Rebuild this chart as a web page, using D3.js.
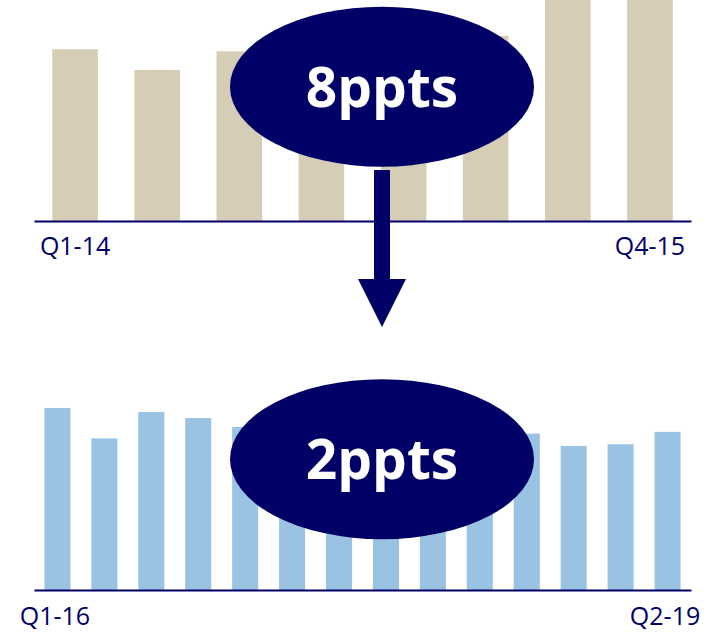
<!DOCTYPE html>
<html>
<head>
<meta charset="utf-8">
<script src="https://cdn.jsdelivr.net/npm/d3@7"></script>
<style>
  body { margin: 0; background: #fff; }
  text { font-family: "Open Sans", sans-serif; }
</style>
</head>
<body>
<div id="chart"></div>
<script>
// quarterly values, percentage points
const topQuarters = ["Q1-14", "Q2-14", "Q3-14", "Q4-14", "Q1-15", "Q2-15", "Q3-15", "Q4-15"];
const topValues = [9.04, 7.95, 8.93, 8.5, 9.2, 9.74, 15.9, 14.8];

const bottomQuarters = ["Q1-16", "Q2-16", "Q3-16", "Q4-16", "Q1-17", "Q2-17", "Q3-17",
  "Q4-17", "Q1-18", "Q2-18", "Q3-18", "Q4-18", "Q1-19", "Q2-19"];
const bottomValues = [9.58, 7.98, 9.37, 9.05, 8.58, 8.3, 8.0, 8.2, 8.4, 8.6, 8.23, 7.58, 7.67, 8.32];

const topLabel = "8ppts";
const bottomLabel = "2ppts";

const navy = "#000066";
const width = 726, height = 632;

const svg = d3.select("#chart")
  .append("svg")
  .attr("width", width)
  .attr("height", height);

function drawPanel(quarters, values, baseY, color, padding, shift) {
  const g = svg.append("g");

  const x = d3.scaleBand()
    .domain(quarters)
    .range([34, 691])
    .paddingInner(0.445)
    .paddingOuter(0.2225);

  // same scale on both panels: 19px per point
  const y = d3.scaleLinear()
    .domain([0, 221 / 19])
    .range([baseY, baseY - 221]);

  g.selectAll(".bar")
    .data(values)
    .enter()
    .append("rect")
    .attr("class", "bar")
    .attr("x", (d, i) => x(quarters[i]))
    .attr("y", d => y(d))
    .attr("width", x.bandwidth())
    .attr("height", d => baseY - y(d))
    .attr("fill", color);

  const xAxis = d3.axisBottom(x)
    .tickValues([quarters[0], quarters[quarters.length - 1]])
    .tickSize(0)
    .tickSizeOuter(0)
    .tickPadding(padding);

  const axis = g.append("g")
    .attr("transform", `translate(0,${baseY})`)
    .call(xAxis);

  axis.select(".domain")
    .attr("stroke", navy)
    .attr("stroke-width", 2);

  axis.selectAll("text")
    .attr("fill", navy)
    .attr("dx", shift)
    .style("font-family", "'Open Sans', sans-serif")
    .style("font-size", "25px");

  return g;
}

function drawBubble(cy, label) {
  const g = svg.append("g");
  g.append("ellipse")
    .attr("cx", 382)
    .attr("cy", cy)
    .attr("rx", 152)
    .attr("ry", 80)
    .attr("fill", navy);
  g.append("text")
    .attr("x", 382)
    .attr("y", cy + 20)
    .attr("text-anchor", "middle")
    .attr("fill", "#fff")
    .style("font-size", "55px")
    .style("font-weight", "700")
    .text(label);
}

drawPanel(topQuarters, topValues, 221, "#d5cdb6", 16, 0);
drawPanel(bottomQuarters, bottomValues, 590, "#99c2e3", 17, -2.5);

drawBubble(86.7, topLabel);
drawBubble(459.2, bottomLabel);

// down arrow between the two panels
const arrow = d3.path();
arrow.moveTo(374, 170);
arrow.lineTo(390, 170);
arrow.lineTo(390, 279);
arrow.lineTo(406, 279);
arrow.lineTo(382, 327);
arrow.lineTo(358, 279);
arrow.lineTo(374, 279);
arrow.closePath();

svg.append("path")
  .attr("d", arrow.toString())
  .attr("fill", navy);
</script>
</body>
</html>
